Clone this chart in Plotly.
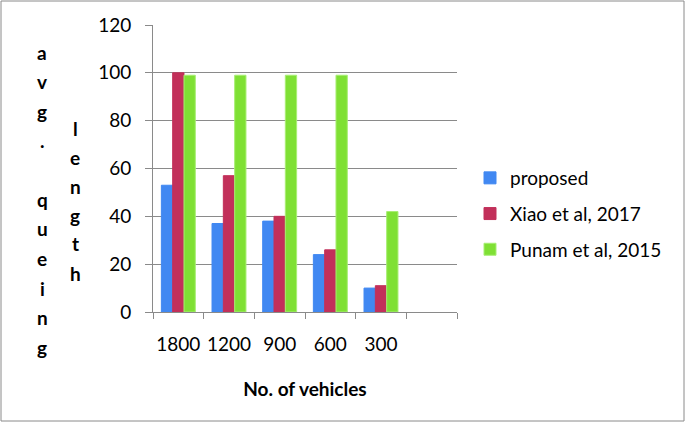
import plotly.graph_objects as go

# ---- data ----
categories = ["1800", "1200", "900", "600", "300", " "]
proposed = [53, 37, 38, 24, 10]
xiao = [100, 57, 40, 26, 11]
punam = [99, 99, 99, 99, 42]
series_names = ["proposed", "Xiao et al, 2017", "Punam et al, 2015"]
y_ticks = [0, 20, 40, 60, 80, 100, 120]
x_title = "No. of vehicles"
y_title_col1 = "avg. queing"
y_title_col2 = "length"

colors = ["#4188F2", "#C2305A", "#7FE034"]
edge = ["#4188F2", "#C2305A", "#A8EE74"]
FONT = "Lato, Carlito, Calibri, sans-serif"
GRAY = "#8A8A8A"
FS = 19

W, H = 685, 423
L, R, T, B = 153, 457, 25, 312  # plot area pixels
pw, ph = R - L, B - T


def px_x(px):
    return (px - L) / pw


def px_y(py):
    return (B - py) / ph


fig = go.Figure()
for i, (name, vals) in enumerate(zip(series_names, [proposed, xiao, punam])):
    fig.add_trace(go.Bar(
        x=categories[:len(vals)], y=vals, name=name,
        marker=dict(color=colors[i], line=dict(color=edge[i], width=1)),
        legendgroup=f"g{i}",
    ))

fig.update_layout(
    width=W, height=H,
    margin=dict(l=L, r=W - R, t=T, b=H - B, pad=0, autoexpand=False),
    paper_bgcolor="white", plot_bgcolor="white",
    barmode="group", bargap=0.33, bargroupgap=0,
    font=dict(family=FONT, size=FS, color="black"),
    showlegend=True,
    legend=dict(
        x=px_x(470), y=px_y(159), xanchor="left", yanchor="top",
        font=dict(family=FONT, size=FS, color="black"),
        tracegroupgap=8, bgcolor="rgba(0,0,0,0)",
    ),
    xaxis=dict(
        type="category", categoryorder="array", categoryarray=categories,
        range=[-0.5, len(categories) - 0.5],
        showgrid=False, showline=True, linecolor=GRAY, linewidth=1,
        ticks="outside", tickson="boundaries", ticklen=6, tickcolor=GRAY,
        ticklabelstandoff=15, tickangle=0, automargin=False,
        tickfont=dict(family=FONT, size=FS),
        title=dict(text="<b>" + x_title + "</b>", standoff=28,
                   font=dict(family=FONT, size=FS)),
        fixedrange=True,
    ),
    yaxis=dict(
        range=[0, 120], tickvals=y_ticks,
        showgrid=True, gridcolor=GRAY, gridwidth=1,
        showline=True, linecolor=GRAY, linewidth=1,
        ticks="outside", ticklen=7, tickcolor=GRAY,
        ticklabelstandoff=10, automargin=False,
        tickfont=dict(family=FONT, size=FS),
        zeroline=False, fixedrange=True,
    ),
)

# vertical stacked y-axis title letters
step = 29.5
annotations = []
for i, ch in enumerate(y_title_col1):
    annotations.append(dict(
        text="<b>" + (ch if ch != " " else "&nbsp;") + "</b>",
        x=px_x(42), y=px_y(52 + i * step), xref="paper", yref="paper",
        xanchor="center", yanchor="middle", showarrow=False,
        font=dict(family=FONT, size=FS, color="black")))
for i, ch in enumerate(y_title_col2):
    annotations.append(dict(
        text="<b>" + ch + "</b>",
        x=px_x(75), y=px_y(128 + i * 29), xref="paper", yref="paper",
        xanchor="center", yanchor="middle", showarrow=False,
        font=dict(family=FONT, size=FS, color="black")))
fig.update_layout(annotations=annotations)

# outer border of the chart
fig.add_shape(type="rect", xref="paper", yref="paper",
              x0=px_x(1), x1=px_x(684), y0=px_y(421), y1=px_y(1),
              line=dict(color=GRAY, width=1), layer="below")

fig.write_html("out.html", config={"displayModeBar": False},
               post_script="document.body.style.margin='0';")
